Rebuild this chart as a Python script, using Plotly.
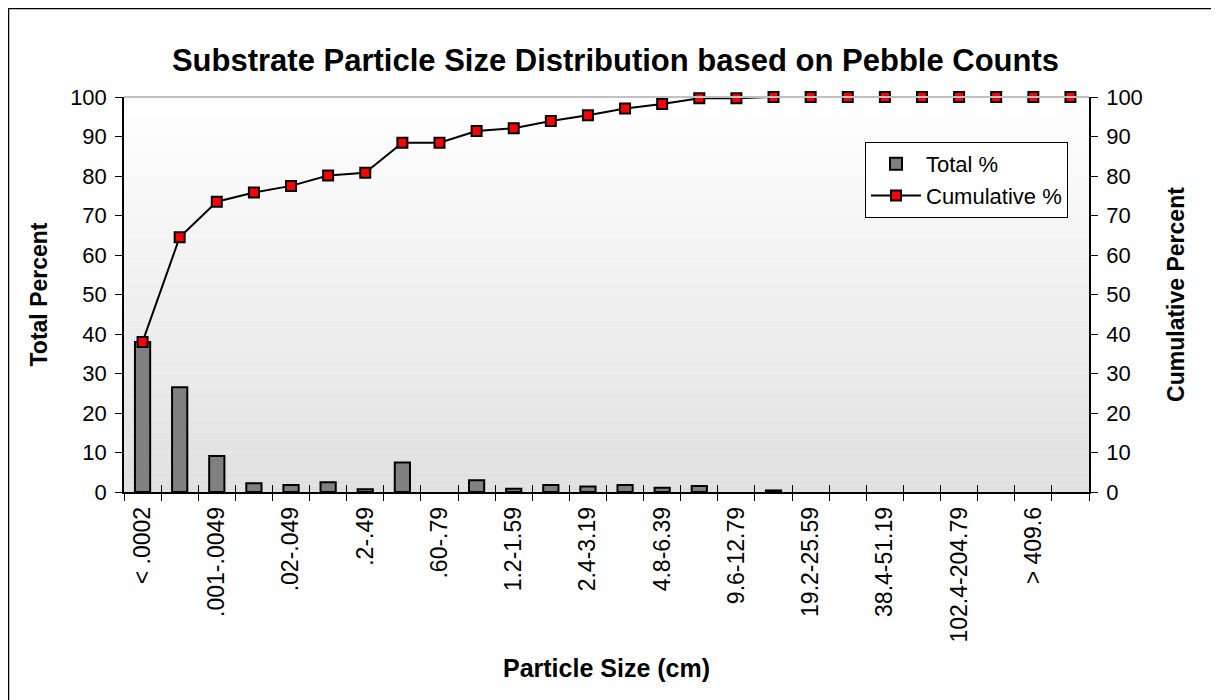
import plotly.graph_objects as go

categories = ["< .0002", ".0002-.00099", ".001-.0049", ".005-.019", ".02-.049", ".05-.19",
              ".2-.49", ".5-.59", ".60-.79", ".8-1.19", "1.2-1.59", "1.6-2.39",
              "2.4-3.19", "3.2-4.79", "4.8-6.39", "6.4-9.59", "9.6-12.79", "12.8-19.19",
              "19.2-25.59", "25.6-38.39", "38.4-51.19", "51.2-102.39", "102.4-204.79",
              "204.8-409.59", "> 409.6", "Bedrock"]
total_pct = [38.0, 26.5, 9.1, 2.2, 1.8, 2.5, 0.7, 7.5, 0.0, 3.0, 0.8, 1.8, 1.4, 1.8,
             1.1, 1.5, 0.0, 0.4, 0, 0, 0, 0, 0, 0, 0, 0]
cumulative_pct = [38.0, 64.5, 73.5, 75.8, 77.5, 80.1, 80.8, 88.4, 88.4, 91.4, 92.1, 93.9,
                  95.4, 97.1, 98.2, 99.7, 99.7, 100, 100, 100, 100, 100, 100, 100, 100, 100]

FONT = "Arial, Liberation Sans, sans-serif"
W, H = 1219, 700
# plot area in figure coordinates (page has an 8px body margin)
L, R, T, B = 116, 1081, 89, 484
pw, ph = R - L, B - T
ncat = len(categories)

fig = go.Figure()
fig.add_trace(go.Bar(
    x=categories, y=total_pct, name="Total %", yaxis="y",
    marker=dict(color="#808080",
                line=dict(color="#000000", width=[2 if v > 0 else 0 for v in total_pct])),
    legendgroup="a",
))
fig.add_trace(go.Scatter(
    x=categories, y=cumulative_pct, name="Cumulative %", yaxis="y2",
    mode="lines+markers", cliponaxis=False,
    line=dict(color="#000000", width=2),
    marker=dict(symbol="square", size=10, color="#ff0000", line=dict(color="#000000", width=2)),
    legendgroup="b",
))
# empty trace so the overlay axis (inner half of the crossing ticks) gets drawn
fig.add_trace(go.Scatter(x=[], y=[], xaxis="x2", yaxis="y", showlegend=False, hoverinfo="skip"))

shapes = []
n = 60
for i in range(n):
    f = (i + 0.5) / n
    c = int(round(0xe0 + (0xff - 0xe0) * f))
    shapes.append(dict(type="rect", xref="paper", yref="paper", x0=0, x1=1, y0=i / n, y1=(i + 1) / n,
                       fillcolor=f"rgb({c},{c},{c})", line=dict(width=0), layer="below"))
shapes.append(dict(type="line", xref="paper", yref="paper", x0=0, x1=1, y0=1, y1=1,
                   line=dict(color="#c0c0c0", width=2), layer="above"))
shapes.append(dict(type="rect", xref="paper", yref="paper",
                   x0=(0.5 - L) / pw, x1=(W - 0.5 - L) / pw,
                   y0=(B - (H - 0.5)) / ph, y1=(B - 0.5) / ph,
                   line=dict(color="#000000", width=1.5), fillcolor="rgba(0,0,0,0)", layer="below"))

fig.update_layout(
    width=W, height=H,
    margin=dict(l=L, r=W - R, t=T, b=H - B),
    paper_bgcolor="#ffffff", plot_bgcolor="#ffffff",
    font=dict(family=FONT, size=22, color="#000000"),
    title=dict(text="<b>Substrate Particle Size Distribution based on Pebble Counts</b>",
               x=607.5 / W, xanchor="center", y=1 - 52 / H, yanchor="middle",
               font=dict(size=31, family=FONT)),
    bargap=0.59,
    showlegend=True,
    legend=dict(x=(857 - L) / pw, y=(B - 134) / ph, xanchor="left", yanchor="top",
                bgcolor="#ffffff", bordercolor="#000000", borderwidth=1,
                font=dict(size=22, family=FONT), traceorder="grouped", tracegroupgap=0,
                itemwidth=50),
    xaxis=dict(type="category", tickmode="linear", tick0=0, dtick=1, ticklabelstep=2,
               tickson="boundaries", ticks="outside", ticklen=7, tickcolor="#000000",
               tickangle=-90, tickfont=dict(size=23, family=FONT), ticklabelstandoff=4,
               showline=True, linecolor="#000000", linewidth=1.5, showgrid=False,
               title=dict(text="<b>Particle Size (cm)</b>", font=dict(size=25, family=FONT), standoff=18),
               range=[-0.5, ncat - 0.5]),
    xaxis2=dict(range=[-0.5, ncat - 0.5], tickmode="linear", tick0=-0.5, dtick=1,
                overlaying="x", anchor="y", side="bottom", ticks="inside", ticklen=7,
                tickcolor="#000000", showticklabels=False, showgrid=False, zeroline=False,
                showline=False),
    yaxis=dict(range=[0, 100], dtick=10, ticks="outside", ticklen=7, tickcolor="#000000",
               showline=True, linecolor="#000000", linewidth=1.5, showgrid=False, zeroline=False,
               tickfont=dict(size=22, family=FONT), ticklabelstandoff=4,
               title=dict(text="<b>Total Percent</b>", font=dict(size=23, family=FONT), standoff=16)),
    yaxis2=dict(range=[0, 100], dtick=10, overlaying="y", side="right", ticks="outside", ticklen=7,
                tickcolor="#000000", showline=True, linecolor="#000000", linewidth=1.5,
                showgrid=False, zeroline=False, tickfont=dict(size=22, family=FONT), ticklabelstandoff=4,
                title=dict(text="<b>Cumulative Percent</b>", font=dict(size=23, family=FONT), standoff=26)),
    shapes=shapes,
)

fig.write_html("out.html")
